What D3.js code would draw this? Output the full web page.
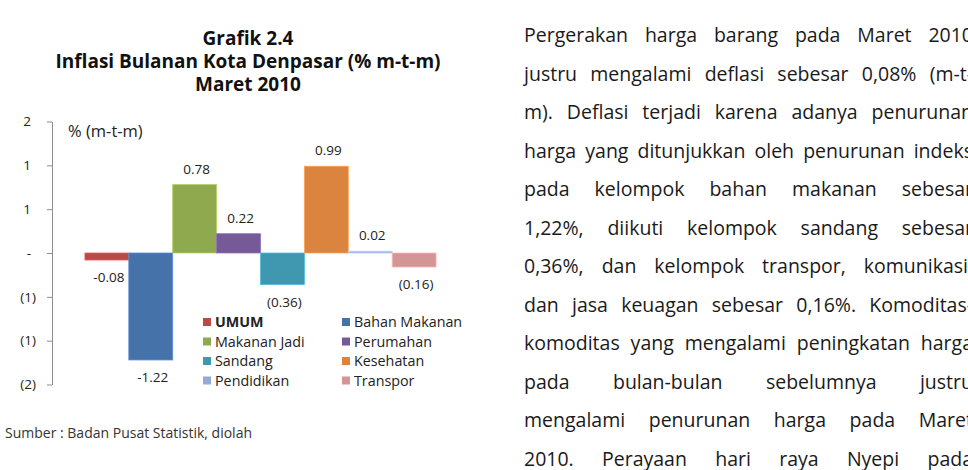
<!DOCTYPE html>
<html>
<head>
<meta charset="utf-8">
<script src="https://cdn.jsdelivr.net/npm/d3@7"></script>
<style>
    html, body {
        margin: 0;
        padding: 0;
        background: #fff;
    }
    body {
        width: 968px;
        height: 470px;
        position: relative;
        overflow: hidden;
        font-family: "Open Sans", "Noto Sans", sans-serif;
        color: #1a1a1a;
    }
    svg {
        position: absolute;
        left: 0;
        top: 0;
    }
    .body-text {
        position: absolute;
        left: 524px;
        top: 16px;
        width: 449px;
        font-size: 19.5px;
        line-height: 38.5px;
    }
    .body-text div {
        text-align: justify;
        text-align-last: justify;
        white-space: nowrap;
    }
</style>
</head>
<body>
<svg id="chart" width="968" height="470"></svg>
<div class="body-text" id="text"></div>
<script>
const categories = ['UMUM', 'Bahan Makanan', 'Makanan Jadi', 'Perumahan',
    'Sandang', 'Kesehatan', 'Pendidikan', 'Transpor'];
const values = [-0.08, -1.22, 0.78, 0.22, -0.36, 0.99, 0.02, -0.16];
const valueLabels = ['-0.08', '-1.22', '0.78', '0.22', '(0.36)', '0.99', '0.02', '(0.16)'];
const colors = ['#BA4A48', '#4672AA', '#8FAA4E', '#765A97', '#4098B0', '#DA8440', '#97AAD3', '#D39595'];
const yTicks = [-1.5, -1, -0.5, 0, 0.5, 1, 1.5];
const titleLines = ['Grafik 2.4', 'Inflasi Bulanan Kota Denpasar (% m-t-m)', 'Maret 2010'];
const unitLabel = '% (m-t-m)';
const sourceNote = 'Sumber : Badan Pusat Statistik, diolah';
const paragraphLines = [
    'Pergerakan harga barang pada Maret 2010',
    'justru mengalami deflasi sebesar 0,08% (m-t-',
    'm). Deflasi terjadi karena adanya penurunan',
    'harga yang ditunjukkan oleh penurunan indeks',
    'pada kelompok bahan makanan sebesar',
    '1,22%, diikuti kelompok sandang sebesar',
    '0,36%, dan kelompok transpor, komunikasi,',
    'dan jasa keuagan sebesar 0,16%. Komoditas-',
    'komoditas yang mengalami peningkatan harga',
    'pada bulan-bulan sebelumnya justru',
    'mengalami penurunan harga pada Maret',
    '2010. Perayaan hari raya Nyepi pada'
];

const svg = d3.select('#chart');
const plot = {left: 52, right: 469, top: 121.5, bottom: 384.5};

// title
svg.append('g')
    .selectAll('text')
    .data(titleLines)
    .join('text')
        .attr('x', 248)
        .attr('y', (d, i) => 45 + i * 23)
        .attr('text-anchor', 'middle')
        .attr('font-size', 19)
        .attr('font-weight', 'bold')
        .attr('fill', '#111')
        .text(d => d);

const x = d3.scaleBand()
    .domain(categories)
    .range([plot.left, plot.right])
    .paddingInner(0)
    .paddingOuter(0.75);

const y = d3.scaleLinear()
    .domain([-1.5, 1.5])
    .range([plot.bottom, plot.top]);

// excel style number format: 0 -> "-", negatives in brackets
const tickFormat = v => v === 0 ? '-' : v < 0 ? `(${Math.round(-v)})` : `${Math.round(v)}`;

const yAxis = svg.append('g')
    .attr('transform', `translate(${plot.left}, 0)`)
    .call(d3.axisLeft(y)
        .tickValues(yTicks)
        .tickFormat(tickFormat)
        .tickSize(5)
        .tickSizeOuter(0)
        .tickPadding(11));

yAxis.select('.domain').attr('stroke', '#8c8c8c');
yAxis.selectAll('.tick line').attr('stroke', '#8c8c8c');
yAxis.selectAll('.tick text')
    .attr('font-family', '"Open Sans", sans-serif')
    .attr('font-size', 13.5)
    .attr('fill', '#222')
    .attr('dx', d => d < 0 ? 0 : -5);

svg.append('text')
    .attr('x', 68)
    .attr('y', 137)
    .attr('font-size', 16.5)
    .attr('fill', '#222')
    .text(unitLabel);

const rows = categories.map((c, i) => ({name: c, value: values[i], label: valueLabels[i], color: colors[i]}));

svg.append('g')
    .selectAll('rect')
    .data(rows)
    .join('rect')
        .attr('x', d => x(d.name))
        .attr('width', x.bandwidth())
        .attr('y', d => y(Math.max(0, d.value)))
        .attr('height', d => Math.max(1, Math.abs(y(d.value) - y(0))))
        .attr('fill', d => d.color)
        .attr('stroke', d => d3.color(d.color).brighter(0.6))
        .attr('stroke-width', 0.8);

svg.append('g')
    .selectAll('text')
    .data(rows)
    .join('text')
        .attr('x', d => x(d.name) + x.bandwidth() / 2 + 2)
        .attr('y', d => d.value >= 0 ? y(d.value) - 11 : y(d.value) + 22)
        .attr('text-anchor', 'middle')
        .attr('font-size', 13.5)
        .attr('fill', '#222')
        .text(d => d.label);

// legend, two columns
const legend = svg.append('g')
    .selectAll('g')
    .data(rows)
    .join('g')
        .attr('transform', (d, i) => `translate(${i % 2 === 0 ? 203 : 342}, ${322 + Math.floor(i / 2) * 19.5})`);

legend.append('rect')
    .attr('x', 0)
    .attr('y', -4)
    .attr('width', 8)
    .attr('height', 8)
    .attr('fill', d => d.color);

legend.append('text')
    .attr('x', 12)
    .attr('y', 5)
    .attr('font-size', 14.3)
    .attr('font-weight', (d, i) => i === 0 ? 'bold' : 'normal')
    .attr('fill', '#222')
    .text(d => d.name);

svg.append('text')
    .attr('x', 5)
    .attr('y', 438)
    .attr('font-size', 14)
    .attr('fill', '#333')
    .text(sourceNote);

d3.select('#text')
    .selectAll('div')
    .data(paragraphLines)
    .join('div')
        .text(d => d);
</script>
</body>
</html>
